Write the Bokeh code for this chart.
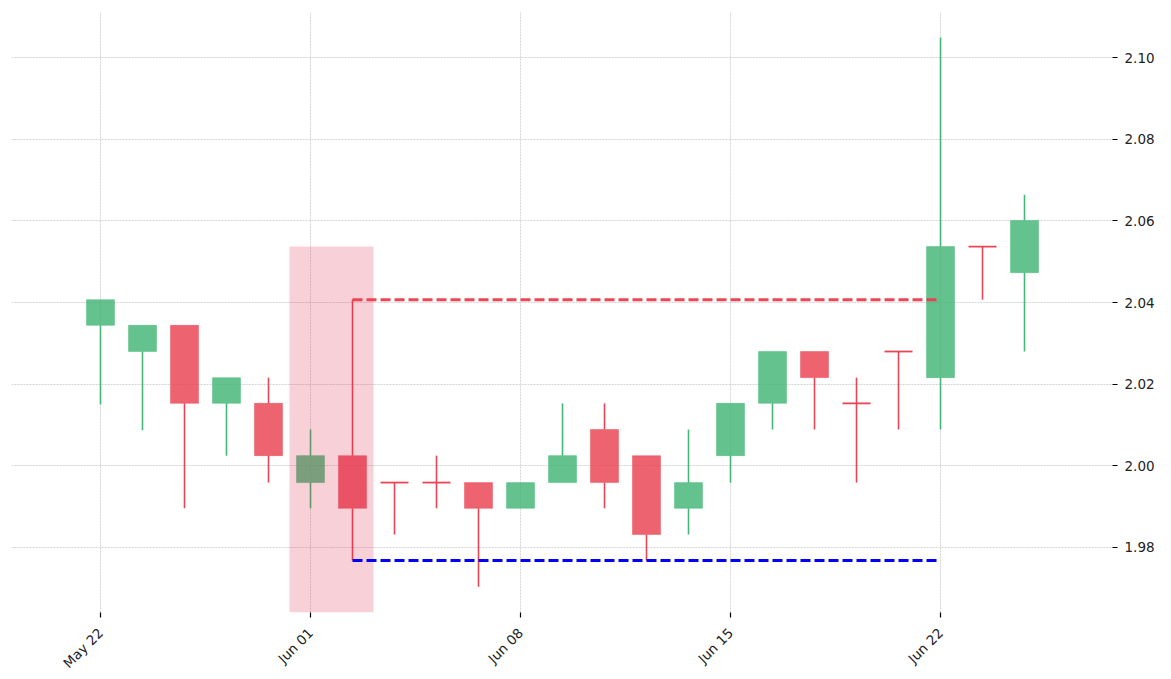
import math
from bokeh.plotting import figure
from bokeh.models import ColumnDataSource, FixedTicker, Range1d
from bokeh.embed import file_html
from bokeh.resources import INLINE

# ---- data ----
dates = ["2020-05-22", "2020-05-26", "2020-05-27", "2020-05-28", "2020-05-29",
         "2020-06-01", "2020-06-02", "2020-06-03", "2020-06-04", "2020-06-05",
         "2020-06-08", "2020-06-09", "2020-06-10", "2020-06-11", "2020-06-12",
         "2020-06-15", "2020-06-16", "2020-06-17", "2020-06-18", "2020-06-19",
         "2020-06-22", "2020-06-23", "2020-06-24"]
opens = [2.0344, 2.0280, 2.0344, 2.0153, 2.0153, 1.9959, 2.0025, 1.9959, 1.9959, 1.9959,
         1.9896, 1.9959, 2.0089, 2.0025, 1.9896, 2.0025, 2.0153, 2.0280, 2.0153, 2.0280,
         2.0216, 2.0537, 2.0473]
highs = [2.0407, 2.0344, 2.0344, 2.0216, 2.0216, 2.0089, 2.0407, 1.9959, 2.0025, 1.9959,
         1.9959, 2.0153, 2.0153, 2.0025, 2.0089, 2.0153, 2.0280, 2.0280, 2.0216, 2.0280,
         2.1049, 2.0537, 2.0664]
lows = [2.0150, 2.0087, 1.9896, 2.0025, 1.9959, 1.9896, 1.9768, 1.9832, 1.9896, 1.9704,
        1.9896, 1.9959, 1.9896, 1.9768, 1.9832, 1.9959, 2.0089, 2.0089, 1.9959, 2.0089,
        2.0089, 2.0407, 2.0280]
closes = [2.0407, 2.0344, 2.0153, 2.0216, 2.0025, 2.0025, 1.9896, 1.9959, 1.9959, 1.9896,
          1.9959, 2.0025, 1.9959, 1.9832, 1.9959, 2.0153, 2.0280, 2.0216, 2.0153, 2.0280,
          2.0537, 2.0537, 2.0601]
tick_idx = [0, 5, 10, 15, 20]
tick_labels = ["May 22", "Jun 01", "Jun 08", "Jun 15", "Jun 22"]
y_ticks = [1.98, 2.00, 2.02, 2.04, 2.06, 2.08, 2.10]

# pattern annotations
pattern_start, pattern_end = 5, 6          # shaded candles
shade_top = 2.0537
level_start, level_end = 6, 20
resistance = 2.0407
support = 1.9768

GREEN = "#3cb371"
RED = "#e83c4c"
BW = 0.667

n = len(dates)
xs = list(range(n))

body_x, body_top, body_bot, body_col = [], [], [], []
doji_x0, doji_x1, doji_y = [], [], []
wu_x, wu_y0, wu_y1, wu_col = [], [], [], []
for i in xs:
    o, h, l, c = opens[i], highs[i], lows[i], closes[i]
    col = GREEN if c > o else RED
    top, bot = max(o, c), min(o, c)
    if abs(c - o) < 1e-9:
        doji_x0.append(i - BW / 2); doji_x1.append(i + BW / 2); doji_y.append(o)
    else:
        body_x.append(i); body_top.append(top); body_bot.append(bot); body_col.append(col)
    if h > top:
        wu_x.append(i); wu_y0.append(top); wu_y1.append(h); wu_col.append(col)
    if l < bot:
        wu_x.append(i); wu_y0.append(l); wu_y1.append(bot); wu_col.append(col)

y0, y1 = 1.96408, 2.11127
p = figure(frame_width=1101, frame_height=601, output_backend="svg",
           toolbar_location=None, y_axis_location="right",
           x_range=Range1d(-2.119, 24.095), y_range=Range1d(y0, y1),
           min_border_left=11, min_border_top=11, min_border_right=0)
p.outline_line_color = None
p.background_fill_color = "white"

for ax in (p.xaxis[0], p.yaxis[0]):
    ax.axis_line_color = None
    ax.major_tick_line_color = "black"
    ax.major_tick_line_width = 1.2
    ax.major_tick_out = 5
    ax.major_tick_in = 0
    ax.minor_tick_line_color = None
    ax.major_label_text_font = "DejaVu Sans"
    ax.major_label_text_font_size = "13.5px"
    ax.major_label_text_color = "#222222"

p.xaxis.ticker = FixedTicker(ticks=tick_idx)
p.xaxis.major_label_overrides = {t: s for t, s in zip(tick_idx, tick_labels)}
p.xaxis.major_label_orientation = math.pi / 4
p.xaxis.major_label_standoff = 13
p.yaxis.ticker = FixedTicker(ticks=y_ticks)
p.yaxis.major_label_overrides = {v: f"{v:.2f}" for v in y_ticks}
p.yaxis.major_label_standoff = 7

p.grid.grid_line_color = "#b8b8b8"
p.grid.grid_line_dash = "2 1"
p.grid.grid_line_width = 0.6

p.segment(x0="x", y0="y0", x1="x", y1="y1", color="c", line_width=1.6, line_alpha=0.95,
          source=ColumnDataSource(dict(x=wu_x, y0=wu_y0, y1=wu_y1, c=wu_col)))
p.vbar(x="x", top="t", bottom="b", width=BW, fill_color="c", fill_alpha=0.8,
       line_color="c", line_alpha=0.4, line_width=1,
       source=ColumnDataSource(dict(x=body_x, t=body_top, b=body_bot, c=body_col)))
p.segment(x0="x0", y0="y", x1="x1", y1="y", color=RED, line_width=1.8, line_alpha=0.95,
          source=ColumnDataSource(dict(x0=doji_x0, x1=doji_x1, y=doji_y)))

p.quad(left=[pattern_start - 0.5], right=[pattern_end + 0.5], bottom=[y0], top=[shade_top],
       fill_color="crimson", fill_alpha=0.2, line_color=None)

p.line([level_start, level_end], [resistance, resistance], line_color="#f03a4c",
       line_width=3, line_dash="10 4", line_alpha=0.95)
p.line([level_start, level_end], [support, support], line_color="#0000ff",
       line_width=3, line_dash="10 4")

open("out.html", "w").write(file_html(p, INLINE))
